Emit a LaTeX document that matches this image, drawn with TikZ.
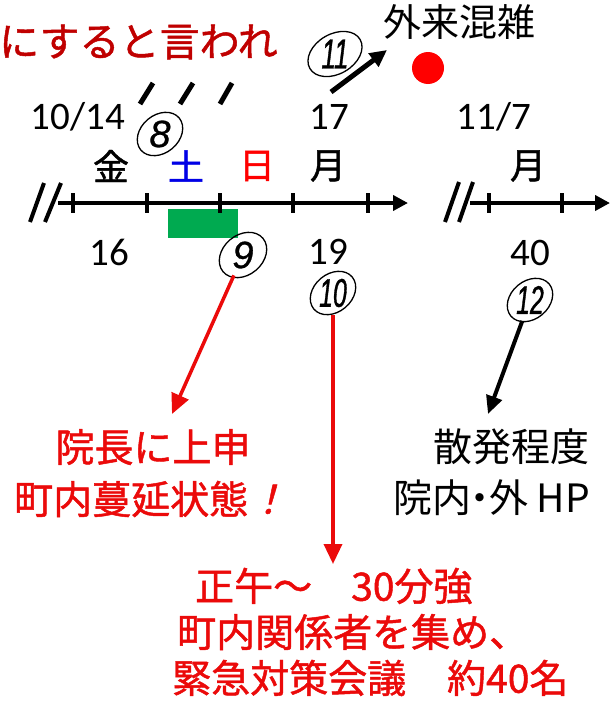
\documentclass[tikz,border=0pt]{standalone}
\usepackage{fontspec}
\usetikzlibrary{arrows.meta,shapes.geometric}
\newfontfamily\jp{Noto Sans CJK JP}
\newfontfamily\jpb[FakeBold=1.2]{Noto Sans CJK JP}
\newfontfamily\jpbs[FakeBold=1.2,FakeSlant=0.25]{Noto Sans CJK JP}
\newfontfamily\lat{Carlito}
\newfontfamily\numf[FakeBold=0.8]{Liberation Sans}
\newfontfamily\numn[FakeStretch=0.62,FakeBold=0.8]{Liberation Sans}
\definecolor{myred}{RGB}{235,10,10}
\definecolor{darkred}{RGB}{192,0,0}
\definecolor{myblue}{RGB}{0,0,230}
\definecolor{mygreen}{RGB}{0,170,80}
\newcommand\ringat[4]{\draw[ring, rotate around={#4:(#1.center)}] (#1.center) ellipse [x radius=#2pt, y radius=#3pt];}
\tikzset{
  ring/.style={line width=1.3pt, draw=black},
  numtxt/.style={shape=ellipse, minimum width=46pt, minimum height=44pt, inner sep=0pt, font=\numf\itshape\fontsize{38}{38}\selectfont},
  numtxtn/.style={numtxt, font=\numn\itshape\fontsize{40}{40}\selectfont},
  datelbl/.style={inner sep=0pt, font=\lat\fontsize{39}{39}\selectfont},
  daylbl/.style={inner sep=0pt, font=\jpb\fontsize{36}{36}\selectfont},
  redtxt/.style={inner sep=0pt, text=myred, font=\jpb\fontsize{39}{39}\selectfont},
  blktxt/.style={inner sep=0pt, text=black, font=\jp\fontsize{39}{39}\selectfont},
  axisline/.style={line width=4pt, -{Triangle[length=15pt,width=15pt]}},
  tickmark/.style={line width=4pt},
  brk/.style={line width=4pt},
  slashmark/.style={line width=5pt},
  redarrow/.style={draw=myred, line width=3.5pt, -{Triangle[length=20pt,width=18pt]}},
  blkarrow/.style={draw=black, line width=4pt, -{Triangle[length=18pt,width=16pt]}},
}
\begin{document}
\begin{tikzpicture}[x=1pt,y=-1pt]
\fill[white] (0,0) rectangle (613,704);
\useasboundingbox (0,0) rectangle (613,704);

% top texts
\node[inner sep=0pt, anchor=west, text=darkred, font=\jpb\fontsize{40}{40}\selectfont] (top) at (-1,42) {にすると言われ};
\node[blktxt, font=\jp\fontsize{38}{38}\selectfont] (ext) at (459,22) {外来混雑};
\node[circle, fill=red, minimum size=32pt, inner sep=0pt] (dot) at (428,68) {};

% circled 11 and its arrow
\node[numtxtn, font=\numn\itshape\fontsize{42}{42}\selectfont] (c11) at (335,54) {11};
\ringat{c11}{20}{29}{-60}
\coordinate (a11s) at (331,92);
\coordinate (a11e) at (387,50);
\draw[line width=5pt, -{Triangle[length=17pt,width=16pt]}] (a11s) -- (a11e);

% slashes
\draw[slashmark] (140,104) -- (153,83);
\draw[slashmark] (180,104) -- (193,83);
\draw[slashmark] (220,104) -- (232,83);

% dates
\node[datelbl] (d1014) at (78,117) {10/14};
\node[datelbl] (d17) at (329,117) {17};
\node[datelbl] (d117) at (494,117) {11/7};
\node[numtxt] (c8) at (160,134) {8};
\ringat{c8}{19}{25}{-50}

% weekdays
\node[daylbl] (kin) at (111,166) {金};
\node[daylbl, text=myblue] (do) at (186,166) {土};
\node[daylbl, text=red] (nichi) at (257,166) {日};
\node[daylbl] (getsu) at (328,166) {月};
\node[daylbl] (getsu2) at (528,166) {月};

% left axis
\coordinate (ax1s) at (58,203);
\coordinate (ax1e) at (408,203);
\fill[mygreen] (168,209) rectangle (238,238);
\draw[axisline] (ax1s) -- (ax1e);
\foreach \x in {73,147,220,293,368} \draw[tickmark] (\x,193) -- (\x,213);
\draw[brk] (30,222) -- (44,183);
\draw[brk] (45,222) -- (61,183);

% right axis
\coordinate (ax2s) at (470,203);
\coordinate (ax2e) at (610,203);
\draw[axisline] (ax2s) -- (ax2e);
\foreach \x in {489,562} \draw[tickmark] (\x,193) -- (\x,213);
\draw[brk] (445,222) -- (459,182);
\draw[brk] (459,222) -- (473,182);

% lower dates
\node[datelbl] (d16) at (109,252) {16};
\node[datelbl] (d19) at (328,252) {19};
\node[datelbl] (d40) at (530,253) {40};

\node[numtxt] (c9) at (243,255) {9};
\ringat{c9}{20}{26}{-50}
\node[numtxtn] (c10) at (333,293) {10};
\ringat{c10}{19}{25}{-50}
\node[numtxtn] (c12) at (530,300) {12};
\ringat{c12}{19}{25}{-50}

% texts below
\node[redtxt] (t9a) at (153,447) {院長に上申};
\node[redtxt, anchor=west] (t9b) at (14,499) {町内蔓延状態{\jpbs ！}};
\node[blktxt, anchor=east] (t12a) at (590,447) {散発程度};
\node[blktxt, anchor=east] (t12b) at (590,498) {院内\hspace{-0.28em}・\hspace{-0.28em}外 HP};
\node[redtxt, anchor=west] (t10a) at (195,586) {正午～\hspace{1em}30分強};
\node[redtxt, anchor=west] (t10b) at (177,632) {町内関係者を集め、};
\node[redtxt, anchor=west] (t10c) at (172,678) {緊急対策会議\hspace{1.05em}約40名};

% arrows
\coordinate (a9e) at (172,414);
\coordinate (a10e) at (333,564);
\coordinate (a12e) at (488,414);
\draw[redarrow] (c9) -- (a9e);
\draw[redarrow] (c10) -- (a10e);
\draw[blkarrow] (c12) -- (a12e);
\end{tikzpicture}
\end{document}
